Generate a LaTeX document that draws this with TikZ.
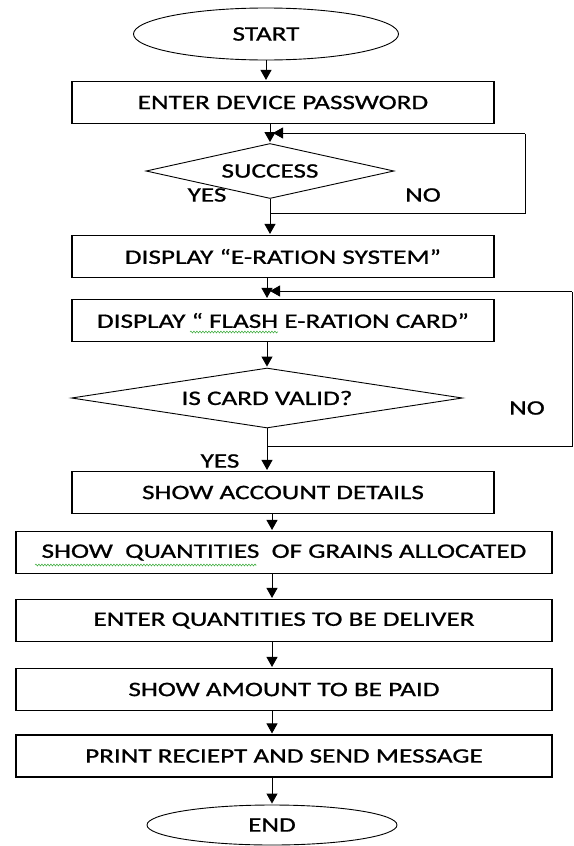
\documentclass[tikz,border=0pt]{standalone}
\usepackage{fontspec}
\setmainfont{Carlito}[FakeStretch=1.32,FakeBold=0.9]
\usetikzlibrary{arrows.meta,shapes.geometric,decorations.pathmorphing}
\definecolor{spellgreen}{RGB}{70,175,70}

\begin{document}
\begin{tikzpicture}[x=1pt,y=-1pt,>={Triangle[length=10pt,width=11pt]},shorten >=1pt,
    every node/.style={font=\fontsize{20.6}{24}\selectfont},
    terminal/.style={ellipse,draw,line width=0.9pt,inner sep=0pt},
    process/.style={rectangle,draw,line width=1.1pt,minimum height=42pt,inner sep=0pt},
    decision/.style={diamond,draw,line width=0.9pt,inner sep=0pt},
    tag/.style={inner sep=0pt},
    line/.style={line width=0.9pt},
    squiggle/.style={spellgreen,line width=0.6pt,decorate,
      decoration={snake,amplitude=0.9pt,segment length=3pt}}]
      \useasboundingbox (0,0) rectangle (573,846);

      \node[terminal,minimum width=265pt,minimum height=52pt] (start) at (266,34) {START};
      \node[process,minimum width=422pt] (pwd) at (283,102.5) {ENTER DEVICE PASSWORD};
      \node[decision,aspect=4.5,minimum width=248pt,minimum height=55pt] (ok) at (270,171) {SUCCESS};
      \node[process,minimum width=422pt] (sys) at (283,256.5) {DISPLAY “E-RATION SYSTEM”};
      \node[process,minimum width=422pt] (flash) at (283,320.5) {DISPLAY “ FLASH E-RATION CARD”};
      \node[decision,aspect=6.5,minimum width=391pt,minimum height=60pt] (valid) at (267,398) {IS CARD VALID?};
      \node[process,minimum width=422pt] (acct) at (283,492.5) {SHOW ACCOUNT DETAILS};
      \node[process,minimum width=536pt] (qty) at (284,552.5) {SHOW\ \ QUANTITIES\ \ OF GRAINS ALLOCATED};
      \node[process,minimum width=536pt] (deliver) at (284,620.5) {ENTER QUANTITIES TO BE DELIVER};
      \node[process,minimum width=536pt] (amount) at (284,689.5) {SHOW AMOUNT TO BE PAID};
      \node[process,minimum width=536pt] (receipt) at (284,756) {PRINT RECIEPT AND SEND MESSAGE};
      \node[terminal,minimum width=250pt,minimum height=40pt] (stop) at (272,825) {END};

      \node[tag] (yes1) at (207,195) {YES};
      \node[tag] (no1) at (423,195) {NO};
      \node[tag] (no2) at (527,408) {NO};
      \node[tag] (yes2) at (220,461) {YES};

      \coordinate (okr) at (525,213);
      \coordinate (okt) at (525,133);
      \coordinate (validr) at (572,446);
      \coordinate (validt) at (572,291);

      \path[->,line]
      (start.south) edge (start.south |- pwd.north)
      (pwd.south -| ok.north) edge (ok.north)
      (ok.south) edge (ok.south |- sys.north)
      (sys.south -| valid.north) edge (valid.north |- flash.north)
      (flash.south -| valid.north) edge (valid.north)
      (valid.south) edge (valid.south |- acct.north)
      (acct.south -| stop.north) edge (stop.north |- qty.north)
      (qty.south -| stop.north) edge (stop.north |- deliver.north)
      (deliver.south -| stop.north) edge (stop.north |- amount.north)
      (amount.south -| stop.north) edge (stop.north |- receipt.north)
      (receipt.south -| stop.north) edge (stop.north)
      ;

      % loops back for NO
      \draw[line] (ok.south |- okr) -- (okr) -- (okt);
      \draw[line,->,shorten >=3pt] (okt) -- (okt -| ok.north);
      \draw[line] (valid.south |- validr) -- (validr) -- (validt);
      \draw[line,->,shorten >=3pt] (validt) -- (validt -| valid.north);

      \draw[squiggle] (190,332) -- (278,332);
      \draw[squiggle] (35,565) -- (256,565);
    \end{tikzpicture}
\end{document}
